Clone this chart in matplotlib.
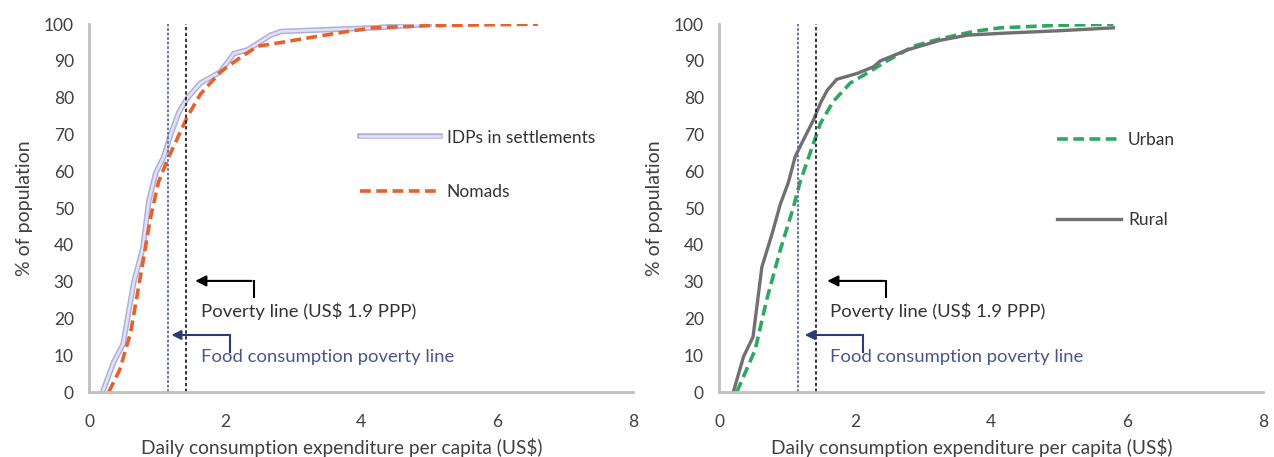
import matplotlib
matplotlib.use("Agg")
import matplotlib.pyplot as plt
import matplotlib.patheffects as pe

plt.rcParams['font.family'] = ['Lato', 'DejaVu Sans']

# ---------------- data ----------------
idp_x = [0.2, 0.36, 0.5, 0.66, 0.79, 0.88, 0.98, 1.1, 1.2, 1.32, 1.45, 1.64, 1.93, 2.13,
         2.33, 2.67, 2.82, 3.5, 4.2, 5.0]
idp_y = [0, 8, 13, 30, 39, 52, 59.5, 64, 70, 76, 80, 84, 87, 92, 93, 97, 98, 98.5, 99, 100]

nomad_x = [0.29, 0.45, 0.61, 0.78, 0.9, 1.02, 1.15, 1.3, 1.45, 1.64, 1.93, 2.23, 2.48, 2.82,
           3.3, 3.8, 4.18, 5.0, 6.6]
nomad_y = [0, 6, 16, 34, 47, 57, 63, 69, 75, 81, 87, 91, 94, 95, 96.5, 98, 99, 99.6, 100]

rural_x = [0.21, 0.36, 0.5, 0.63, 0.78, 0.9, 1.02, 1.12, 1.24, 1.39, 1.49, 1.59, 1.73, 2.03,
           2.27, 2.37, 2.77, 3.25, 3.65, 4.14, 5.0, 5.8]
rural_y = [0, 9.6, 15, 34, 43, 51, 57, 64, 68.5, 74, 78.5, 82, 85, 86.6, 88.4, 90, 93, 95.6,
           97, 97.5, 98.2, 99]

urban_x = [0.26, 0.53, 0.7, 0.9, 1.09, 1.19, 1.34, 1.49, 1.68, 1.93, 2.18, 2.47, 2.86, 3.25,
           3.74, 4.14, 5.0, 5.8]
urban_y = [0, 11.4, 25, 38.6, 50, 57, 65, 73, 79, 84, 86.7, 90, 94, 96, 98, 99, 99.7, 100]

food_line = 1.16
poverty_line = 1.42

# ---------------- figure ----------------
fig = plt.figure(figsize=(12.74, 4.57), dpi=100)
ax1 = fig.add_axes([0.0699, 0.1422, 0.427, 0.805])
ax2 = fig.add_axes([0.5644, 0.1422, 0.427, 0.805])

idp_fx = [pe.Stroke(linewidth=4, foreground='#b0b0da'), pe.Normal()]
ax1.plot(idp_x, idp_y, color='#e2e2f4', lw=1.8, path_effects=idp_fx, label='IDPs in settlements')
ax1.plot(nomad_x, nomad_y, color='#e8602c', lw=2.6, dashes=(3, 1.5), label='Nomads')

ax2.plot(urban_x, urban_y, color='#2ea860', lw=2.6, dashes=(3, 1.5), label='Urban')
ax2.plot(rural_x, rural_y, color='#707070', lw=2.4, label='Rural')

for ax in (ax1, ax2):
    ax.axvline(food_line, color='#5a6a9e', lw=1.3, ls=(0, (1.5, 1)))
    ax.axvline(poverty_line, color='#111111', lw=1.2, ls=(0, (2, 1.5)))
    ax.set_xlim(0, 8)
    ax.set_ylim(0, 100)
    ax.set_xticks([0, 2, 4, 6, 8])
    ax.set_yticks(range(0, 101, 10))
    for s in ('top', 'right'):
        ax.spines[s].set_visible(False)
    for s in ('left', 'bottom'):
        ax.spines[s].set_color('#bfbfbf')
        ax.spines[s].set_linewidth(2)
    ax.tick_params(length=0, labelsize=12.5, colors='#404040')
    ax.tick_params(axis='x', pad=16)
    ax.tick_params(axis='y', pad=11)
    ax.set_xlabel('Daily consumption expenditure per capita (US$)', fontsize=13.8,
                  color='#404040', va='center')
    ax.xaxis.set_label_coords(0.465, -0.15)
    ax.set_ylabel('% of population', fontsize=14, color='#404040', va='center')
    ax.yaxis.set_label_coords(-0.118, 0.5)

# annotations (elbow arrows)
arrows = [
    (ax1, 1.52, 2.42, 1.64),
    (ax2, 1.55, 2.46, 1.63),
]
for ax, tip, elbow, tx in arrows:
    ax.plot([elbow, elbow], [25.8, 30.2], color='black', lw=1.5)
    ax.annotate('', xy=(tip, 30.2), xytext=(elbow + 0.01, 30.2),
                arrowprops=dict(arrowstyle='-|>', color='black', lw=1.5, mutation_scale=16))
    ax.text(tx, 22, 'Poverty line (US$ 1.9 PPP)', fontsize=13.3, color='#333333', va='center')

food_arrows = [
    (ax1, 1.17, 2.08, 1.64),
    (ax2, 1.22, 2.12, 1.63),
]
for ax, tip, elbow, tx in food_arrows:
    ax.plot([elbow, elbow], [10.9, 15.5], color='#2e3a78', lw=1.5)
    ax.annotate('', xy=(tip, 15.5), xytext=(elbow + 0.01, 15.5),
                arrowprops=dict(arrowstyle='-|>', color='#2e3a78', lw=1.5, mutation_scale=14))
    ax.text(tx, 9.5, 'Food consumption poverty line', fontsize=13.3, color='#4a5590', va='center')

ax1.legend(loc='center left', bbox_to_anchor=(0.498, 0.618), frameon=False, fontsize=12.5,
           handlelength=4.6, labelspacing=2.2, handletextpad=0.4, borderpad=0, borderaxespad=0,
           labelcolor='#333333')
ax2.legend(loc='center left', bbox_to_anchor=(0.621, 0.577), frameon=False, fontsize=12.5,
           handlelength=3.7, labelspacing=3.7, handletextpad=0.4, borderpad=0, borderaxespad=0,
           labelcolor='#333333')

fig.savefig('out.png', dpi=100)
